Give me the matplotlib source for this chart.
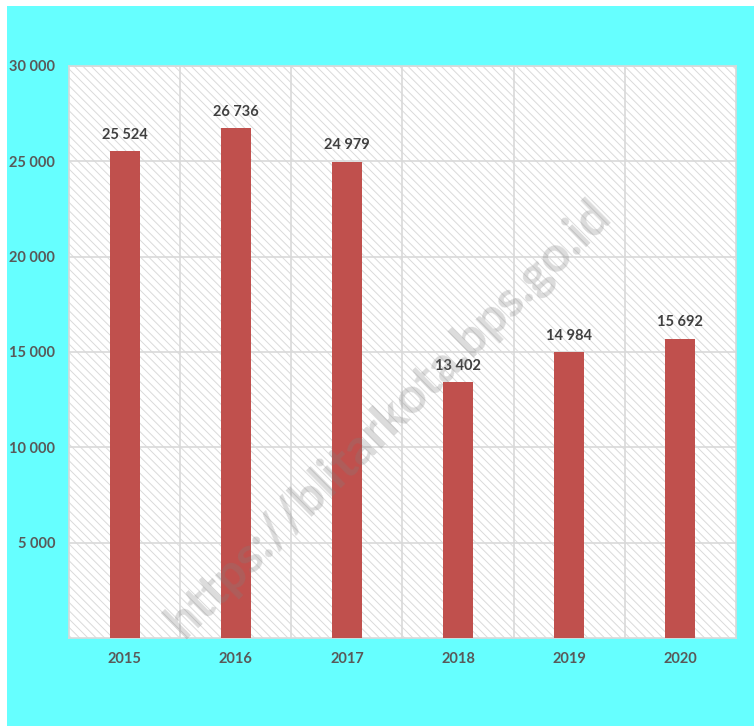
import matplotlib
matplotlib.use("Agg")
import matplotlib.pyplot as plt
from matplotlib.patches import Rectangle
from matplotlib.ticker import FuncFormatter, FixedLocator

years = ["2015", "2016", "2017", "2018", "2019", "2020"]
values = [25524, 26736, 24979, 13402, 14984, 15692]
y_ticks = [5000, 10000, 15000, 20000, 25000, 30000]


def space_thousands(v, pos=None):
    return "{:,}".format(int(v)).replace(",", " ")


plt.rcParams["font.family"] = ["Lato", "DejaVu Sans"]
plt.rcParams["font.weight"] = "bold"
plt.rcParams["hatch.linewidth"] = 0.7

fig = plt.figure(figsize=(7.54, 7.26), dpi=100)
fig.patch.set_facecolor("white")
fig.patches.append(Rectangle((7 / 754, 0), 1 - 7 / 754, 1 - 6 / 726,
                             transform=fig.transFigure, facecolor="#66FFFF",
                             edgecolor="none", zorder=-10))

ax = fig.add_axes([69 / 754, 88 / 726, 667 / 754, 572 / 726])
ax.patch.set_facecolor("white")
ax.add_patch(Rectangle((0, 0), 1, 1, transform=ax.transAxes, facecolor="white",
                       edgecolor="#DADADA", hatch="\\\\\\\\", linewidth=0,
                       zorder=0))

x = list(range(len(years)))
bars = ax.bar(x, values, width=0.27, color="#C0504D", zorder=3)

for xi, v in zip(x, values):
    ax.annotate(space_thousands(v), (xi, v), xytext=(0, 7),
                textcoords="offset points", ha="center", va="bottom",
                fontsize=10.5, fontweight="bold", color="#404040", zorder=5)

ax.set_xlim(-0.5, len(years) - 0.5)
ax.set_ylim(0, 30000)
ax.set_xticks(x)
ax.set_xticklabels(years)
ax.xaxis.set_minor_locator(FixedLocator([i + 0.5 for i in range(len(years) - 1)]))
ax.set_yticks(y_ticks)
ax.yaxis.set_major_formatter(FuncFormatter(space_thousands))

ax.tick_params(axis="both", which="both", length=0, labelsize=10.5,
               labelcolor="#595959")
ax.tick_params(axis="x", pad=10)
ax.tick_params(axis="y", pad=10)

ax.grid(axis="y", which="major", color="#D9D9D9", linewidth=1.2, zorder=1)
ax.grid(axis="x", which="minor", color="#D9D9D9", linewidth=1.2, zorder=1)
ax.set_axisbelow(True)
for spine in ax.spines.values():
    spine.set_color("#D9D9D9")
    spine.set_linewidth(1.2)

fig.text(388 / 754, 1 - 418 / 726, "https://blitarkota.bps.go.id",
         rotation=44.5, ha="center", va="center", fontsize=36,
         fontweight="bold", color="#808080", alpha=0.28, zorder=2)

fig.savefig("out.png", dpi=100)
